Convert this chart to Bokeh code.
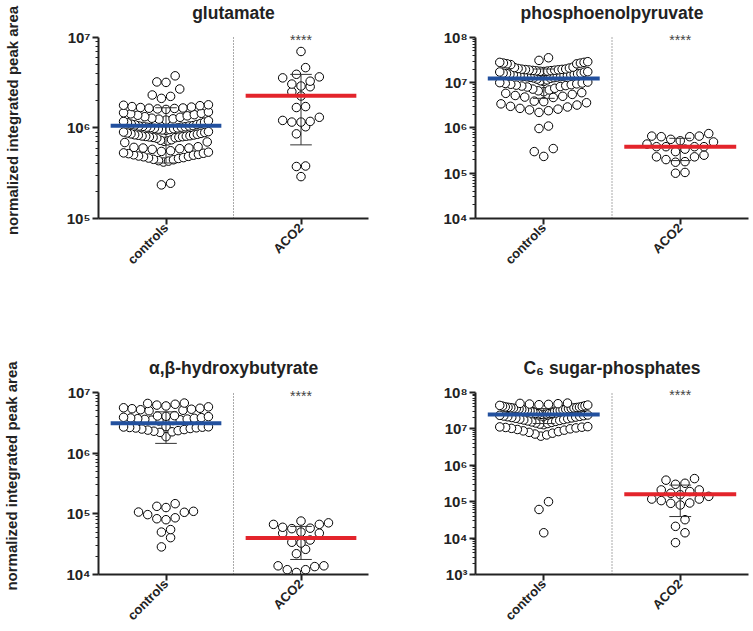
import math
import numpy as np
from bokeh.plotting import figure
from bokeh.layouts import column, row
from bokeh.models import FixedTicker, CustomJSTickFormatter, Label
from bokeh.embed import file_html
from bokeh.resources import INLINE

groups = ["controls", "ACO2"]
y_label = "normalized integrated peak area"

# ---------------- data ----------------
glu_controls = [
    2.35e5, 2.45e5,
    4.20e5, 4.30e5, 4.35e5, 4.45e5, 4.50e5, 4.60e5, 4.65e5, 4.70e5, 4.80e5, 4.85e5, 4.90e5,
    5.00e5, 5.05e5, 5.10e5, 5.20e5, 5.25e5, 5.30e5, 5.40e5, 5.50e5, 5.60e5,
    5.80e5, 5.90e5, 6.00e5, 6.00e5, 6.10e5, 6.20e5,
    6.90e5, 7.00e5, 7.10e5, 7.20e5, 7.30e5, 7.40e5,
    7.70e5, 7.80e5, 7.85e5, 7.90e5, 7.95e5, 8.00e5, 8.05e5, 8.10e5, 8.15e5, 8.20e5,
    8.30e5, 8.35e5, 8.40e5, 8.50e5, 8.60e5, 8.70e5, 8.80e5, 8.90e5, 9.00e5, 9.10e5,
    9.40e5, 9.50e5, 9.60e5, 9.70e5, 9.80e5, 9.90e5, 1.00e6, 1.01e6, 1.02e6, 1.02e6,
    1.03e6, 1.04e6, 1.05e6, 1.05e6, 1.06e6,
    1.08e6, 1.09e6, 1.10e6, 1.12e6, 1.14e6, 1.16e6, 1.18e6, 1.20e6, 1.22e6, 1.25e6, 1.26e6, 1.28e6,
    1.31e6, 1.33e6, 1.36e6, 1.38e6, 1.40e6, 1.43e6, 1.45e6, 1.47e6, 1.50e6,
    1.60e6, 1.62e6, 1.64e6, 1.65e6, 1.66e6, 1.68e6, 1.70e6, 1.72e6, 1.76e6, 1.78e6, 1.80e6,
    2.12e6, 2.23e6, 2.31e6,
    2.69e6, 3.18e6, 3.22e6, 3.76e6,
]
glu_aco2 = [2.9e5, 3.75e5, 3.8e5, 8.6e5, 1.03e6, 1.16e6, 1.16e6, 1.18e6, 1.21e6, 1.31e6,
            1.68e6, 1.72e6, 2.25e6, 2.51e6, 2.85e6, 2.90e6, 3.05e6, 3.28e6, 3.57e6, 3.66e6,
            3.91e6, 4.63e6, 6.98e6]
glu_mean = [1.06e6, 2.26e6]
glu_sd_low = [4.1e5, 6.5e5]
glu_sd_high = [1.67e6, 3.9e6]

pep_controls = [
    2.35e5, 3.0e5, 3.5e5, 9.7e5, 1.1e6,
    2.2e6, 2.4e6, 2.5e6, 2.6e6, 2.7e6, 2.9e6, 3.0e6, 3.2e6, 3.4e6, 3.6e6, 3.8e6, 3.9e6,
    4.7e6, 4.8e6, 5.0e6, 5.2e6, 5.5e6, 5.8e6, 6.0e6, 6.3e6, 6.6e6, 6.9e6, 7.2e6, 7.5e6, 8.0e6,
    8.2e6, 8.4e6, 8.6e6, 8.8e6, 9.0e6, 9.2e6, 9.4e6, 9.6e6, 9.8e6, 1.00e7, 1.03e7, 1.06e7,
    1.10e7, 1.15e7, 1.20e7,
    1.25e7, 1.27e7, 1.29e7, 1.31e7, 1.33e7, 1.35e7, 1.36e7, 1.38e7, 1.40e7, 1.42e7, 1.44e7,
    1.46e7, 1.48e7, 1.50e7, 1.52e7, 1.54e7, 1.56e7, 1.58e7, 1.60e7, 1.62e7,
    1.70e7, 1.72e7, 1.74e7, 1.76e7, 1.78e7, 1.80e7, 1.82e7, 1.84e7, 1.86e7, 1.88e7, 1.90e7,
    1.92e7, 1.94e7, 1.96e7, 1.98e7, 2.00e7, 2.05e7, 2.10e7, 2.15e7, 2.20e7,
    2.50e7, 2.60e7, 2.60e7, 2.70e7, 2.70e7, 2.80e7, 2.80e7, 2.90e7,
    3.10e7, 3.54e7,
]
pep_aco2 = [1.0e5, 1.04e5, 1.75e5, 1.8e5, 2.0e5, 2.3e5, 2.3e5, 2.5e5, 3.0e5, 3.4e5, 3.85e5,
            3.85e5, 3.85e5, 3.85e5, 4.4e5, 4.9e5, 5.2e5, 5.6e5, 6.4e5, 6.4e5, 6.6e5, 6.6e5, 7.5e5]
pep_mean = [1.23e7, 3.85e5]
pep_sd_low = [4.5e6, 1.9e5]
pep_sd_high = [2.0e7, 5.9e5]

hb_controls = [
    2.85e4, 4.05e4, 5.0e4, 5.5e4, 8.0e4, 8.3e4, 8.6e4, 9.7e4, 1.06e5, 1.07e5, 1.1e5,
    1.27e5, 1.33e5, 1.47e5,
    1.87e6,
    2.20e6, 2.25e6, 2.30e6, 2.35e6, 2.40e6, 2.45e6, 2.50e6, 2.55e6, 2.60e6, 2.62e6, 2.65e6,
    2.68e6, 2.70e6, 2.72e6, 2.75e6,
    3.40e6, 3.45e6, 3.50e6, 3.55e6, 3.60e6, 3.65e6, 3.70e6, 3.75e6, 3.80e6, 3.85e6, 3.90e6,
    4.00e6, 4.05e6, 4.10e6, 4.15e6,
    5.00e6, 5.10e6, 5.20e6, 5.30e6, 5.40e6, 5.50e6, 5.60e6, 5.80e6, 6.00e6, 6.20e6, 6.40e6,
    6.60e6, 6.70e6,
]
hb_aco2 = [1.08e4, 1.2e4, 1.2e4, 1.35e4, 1.39e4, 1.39e4, 2.2e4, 2.6e4, 3.3e4, 3.4e4, 3.7e4,
           4.8e4, 4.8e4, 5.0e4, 5.7e4, 5.8e4, 6.0e4, 6.7e4, 6.7e4, 7.1e4, 7.6e4]
hb_mean = [3.1e6, 4.0e4]
hb_sd_low = [1.45e6, 1.77e4]
hb_sd_high = [4.8e6, 6.2e4]

c6_controls = [
    1.4e4, 6.1e4, 1.0e5,
    6.3e6, 6.8e6, 7.2e6, 7.6e6, 8.0e6, 8.4e6, 8.8e6, 9.2e6, 9.6e6, 1.00e7, 1.03e7, 1.06e7,
    1.09e7, 1.11e7, 1.13e7, 1.15e7,
    1.30e7, 1.35e7, 1.40e7, 1.45e7, 1.50e7, 1.55e7, 1.60e7, 1.65e7, 1.70e7, 1.75e7, 1.80e7,
    1.85e7, 1.90e7, 1.95e7, 2.00e7, 2.05e7, 2.10e7, 2.15e7, 2.20e7, 2.25e7, 2.30e7, 2.35e7,
    2.40e7, 2.45e7, 2.50e7, 2.55e7, 2.60e7, 2.62e7, 2.65e7, 2.68e7,
    3.00e7, 3.05e7, 3.10e7, 3.15e7, 3.20e7, 3.25e7, 3.30e7, 3.35e7, 3.40e7, 3.45e7, 3.50e7,
    3.55e7, 3.60e7, 3.65e7, 3.70e7, 3.75e7, 3.80e7, 3.85e7, 3.90e7, 3.95e7, 4.00e7, 4.10e7,
    4.20e7, 4.30e7, 4.40e7, 4.50e7, 4.60e7, 4.70e7, 4.80e7, 4.90e7, 5.00e7, 5.10e7,
]
c6_aco2 = [7.5e3, 1.4e4, 2.1e4, 3.2e4, 8.1e4, 9.0e4, 9.2e4, 1.07e5, 1.18e5, 1.18e5, 1.4e5,
           1.55e5, 1.7e5, 1.9e5, 2.1e5, 2.1e5, 3.0e5, 3.2e5, 3.9e5, 4.3e5]
c6_mean = [2.46e7, 1.6e5]
c6_sd_low = [1.4e7, 3.9e4]
c6_sd_high = [3.6e7, 2.85e5]

significance = "****"

# ---------------- styling ----------------
FONT = "Liberation Sans"
AXIS_COLOR = "#222222"
MEAN_COLORS = ["#22509e", "#e3242b"]
TITLE_PAD = 15  # blank strip above the top decade, so the title sits higher


def swarm_offsets(vals, ymin, ymax, frame_h, px_per_unit, bin_px=10.0, step_px=9.5, half_w=44.0):
    vals = np.asarray(vals, dtype=float)
    ppd = frame_h / (math.log10(ymax) - math.log10(ymin))
    ypx = (np.log10(vals) - math.log10(ymin)) * ppd
    order = np.argsort(ypx, kind="stable")
    offs = np.zeros(len(vals))
    n = len(vals)
    i = 0
    while i < n:
        start = ypx[order[i]]
        j = i
        while j < n and ypx[order[j]] - start < bin_px:
            j += 1
        members = order[i:j]
        m = len(members)
        step = step_px if m <= 1 else min(step_px, 2 * half_w / (m - 1))
        slots = [(k - (m - 1) / 2) * step for k in range(m)]
        slots.sort(key=lambda s: (abs(s), s))
        for idx, s in zip(members, slots):
            offs[idx] = s / px_per_unit
        i = j
    return offs


SUP_JS = """
const sup = {"0":"\u2070","1":"\u00b9","2":"\u00b2","3":"\u00b3","4":"\u2074","5":"\u2075","6":"\u2076","7":"\u2077","8":"\u2078","9":"\u2079","-":"\u207b"};
const e = Math.round(Math.log10(tick));
return "10" + String(e).split("").map(c => sup[c]).join("");
"""


def make_panel(title, ctrl, aco2, mean, lo, hi, yr, width, height, borders, show_ylabel):
    bl, br, bt, bb = borders
    frame_w = width - bl - br
    frame_h = height - bt - bb          # height of the ymin..ymax span in px
    ymin, ymax = yr
    ppd = frame_h / (math.log10(ymax) - math.log10(ymin))
    ytop = 10 ** (math.log10(ymax) + TITLE_PAD / ppd)
    p = figure(width=width, height=height, y_axis_type="log",
               x_range=(-0.5, 1.5), y_range=(ymin, ytop),
               output_backend="svg", toolbar_location=None,
               min_border_left=bl, min_border_right=br,
               min_border_top=bt - TITLE_PAD, min_border_bottom=bb)
    p.outline_line_color = None
    p.grid.visible = False
    p.background_fill_color = "white"
    p.border_fill_color = "white"

    p.title.text = title
    p.title.align = "center"
    p.title.text_font = FONT
    p.title.text_font_style = "bold"
    p.title.text_font_size = "17.5px"
    p.title.text_color = "#222222"
    p.title.standoff = 0

    e0, e1 = int(round(math.log10(ymin))), int(round(math.log10(ymax)))
    majors = [10.0 ** e for e in range(e0, e1 + 1)]
    minors = [k * 10.0 ** e for e in range(e0, e1) for k in range(2, 10)]
    yax = p.yaxis[0]
    yax.bounds = (ymin, ymax)
    yax.ticker = FixedTicker(ticks=majors, minor_ticks=minors)
    yax.formatter = CustomJSTickFormatter(code=SUP_JS)
    yax.axis_line_width = 2
    yax.axis_line_color = AXIS_COLOR
    yax.major_tick_line_width = 2
    yax.major_tick_line_color = AXIS_COLOR
    yax.major_tick_out = 6
    yax.major_tick_in = 0
    yax.minor_tick_out = 3
    yax.minor_tick_in = 0
    yax.minor_tick_line_width = 1
    yax.minor_tick_line_color = AXIS_COLOR
    yax.major_label_text_font = FONT
    yax.major_label_text_font_style = "bold"
    yax.major_label_text_font_size = "15px"
    yax.major_label_text_color = AXIS_COLOR
    yax.major_label_standoff = 2
    if show_ylabel:
        yax.axis_label = y_label
        yax.axis_label_text_font = FONT
        yax.axis_label_text_font_style = "bold"
        yax.axis_label_text_font_size = "15px"
        yax.axis_label_text_color = AXIS_COLOR
        yax.axis_label_standoff = 43

    xax = p.xaxis[0]
    xax.ticker = FixedTicker(ticks=[0, 1])
    xax.major_label_overrides = {0: groups[0], 1: groups[1]}
    xax.major_label_orientation = math.pi / 4
    xax.major_label_text_font = FONT
    xax.major_label_text_font_style = "bold"
    xax.major_label_text_font_size = "13px"
    xax.major_label_text_color = AXIS_COLOR
    xax.major_label_standoff = 1
    xax.axis_line_width = 2
    xax.axis_line_color = AXIS_COLOR
    xax.major_tick_line_width = 2
    xax.major_tick_line_color = AXIS_COLOR
    xax.major_tick_out = 6
    xax.major_tick_in = 0
    xax.minor_tick_line_color = None

    # dotted divider between the two groups, spanning the axis extent
    p.segment(x0=[0.5], x1=[0.5], y0=[ymin], y1=[ymax], line_color="#555555",
              line_dash="1 2", line_width=1)

    ppu = frame_w / 2.0
    for gi, vals in enumerate([ctrl, aco2]):
        offs = swarm_offsets(vals, ymin, ymax, frame_h, ppu)
        xs = gi + offs
        p.scatter(xs, vals, marker="circle", size=8.5, fill_color="white",
                  line_color="black", line_width=1)

    # SD whiskers
    gx = [0, 1]
    p.segment(x0=gx, x1=gx, y0=lo, y1=hi, line_color="#333333", line_width=1)
    cap = 0.08
    p.segment(x0=[g - cap for g in gx], x1=[g + cap for g in gx], y0=hi, y1=hi,
              line_color="#333333", line_width=1)
    p.segment(x0=[g - cap for g in gx], x1=[g + cap for g in gx], y0=lo, y1=lo,
              line_color="#333333", line_width=1)
    # mean lines
    half = 0.41
    p.segment(x0=[g - half for g in gx], x1=[g + half for g in gx], y0=mean, y1=mean,
              line_color=MEAN_COLORS, line_width=4)

    # significance stars
    p.add_layout(Label(x=1, y=ymax, text=significance, text_align="center",
                       text_baseline="alphabetic", y_offset=-3, text_font=FONT,
                       text_font_size="14px", text_color="#444444"))
    return p


p1 = make_panel("glutamate", glu_controls, glu_aco2, glu_mean, glu_sd_low, glu_sd_high,
                (1e5, 1e7), 376, 300, (88, 8, 35, 82), True)
p2 = make_panel("phosphoenolpyruvate", pep_controls, pep_aco2, pep_mean, pep_sd_low,
                pep_sd_high, (1e4, 1e8), 377, 300, (99, 5, 36, 81), False)
p3 = make_panel("\u03b1,\u03b2-hydroxybutyrate", hb_controls, hb_aco2, hb_mean, hb_sd_low,
                hb_sd_high, (1e4, 1e7), 376, 331, (88, 8, 92, 57), True)
p4 = make_panel("C\u2086 sugar-phosphates", c6_controls, c6_aco2, c6_mean, c6_sd_low,
                c6_sd_high, (1e3, 1e8), 377, 331, (99, 5, 91, 57), False)

layout = column(row(p1, p2), row(p3, p4))
open("out.html", "w").write(file_html(layout, INLINE))
